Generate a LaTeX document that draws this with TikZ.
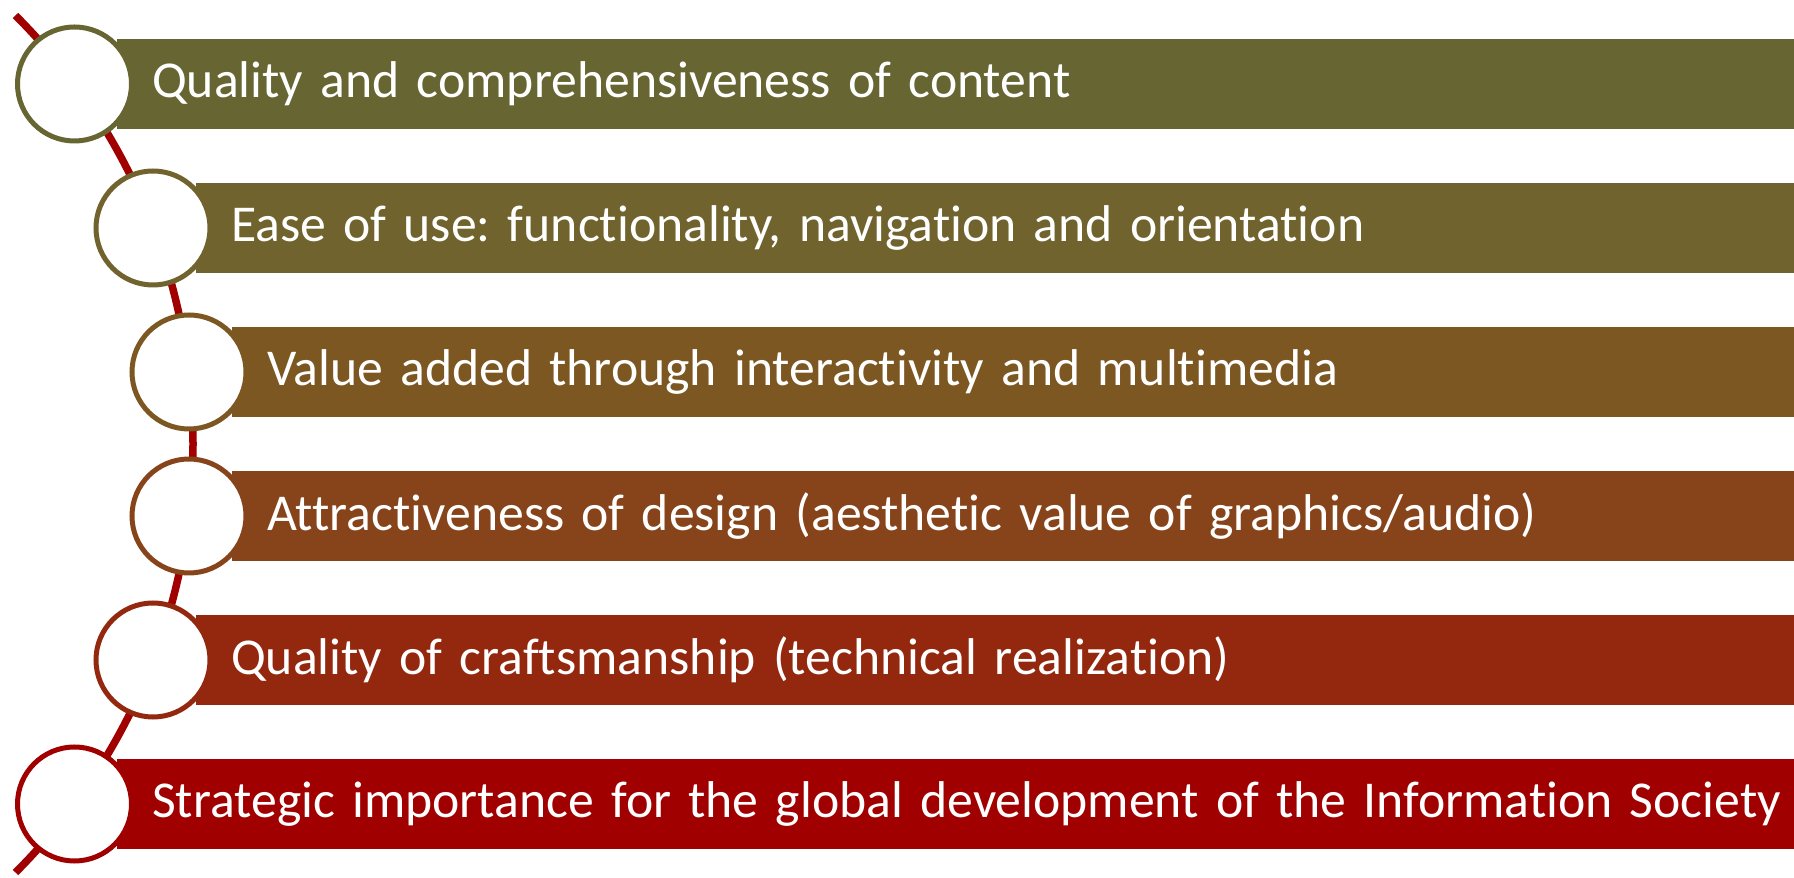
\documentclass[tikz,border=0pt]{standalone}
\usepackage{fontspec}
\setmainfont{Carlito}[Ligatures={NoCommon,NoRare,NoContextual}, RawFeature={-calt}]
\frenchspacing
\definecolor{lvla}{HTML}{676633}
\definecolor{lvlb}{HTML}{71632D}
\definecolor{lvlc}{HTML}{7C5722}
\definecolor{lvld}{HTML}{87441A}
\definecolor{lvle}{HTML}{93280F}
\definecolor{lvlf}{HTML}{A00000}
\begin{document}
\begin{tikzpicture}[x=1pt, y=1pt,
  dot/.style = {draw, circle, fill=white, line width=5pt, minimum size=114pt, inner sep=0pt},
  bar/.style = {anchor=west, minimum height=90pt, inner xsep=35pt, inner ysep=0pt, text width=1630pt, align=left, text=white, font=\fontsize{51.7}{60}\selectfont}]
	\useasboundingbox (0,0) rectangle (1794,878);
	\coordinate (o) at (-413,434);
	\draw[line width=7.5pt, lvlf] (o) ++(45:606pt) coordinate (top) arc[start angle=45, end angle=-45, radius=606pt] coordinate (bot);

	\node[bar, fill=lvla] (qual) at (117,794) {Quality and comprehensiveness of content};
	\node[bar, fill=lvlb] (ease) at (196,650) {Ease of use: functionality, navigation and orientation};
	\node[bar, fill=lvlc] (value) at (232,506) {Value added through interactivity and multimedia};
	\node[bar, fill=lvld] (design) at (232,362) {Attractiveness of design (aesthetic value of graphics/audio)};
	\node[bar, fill=lvle] (craft) at (196,218) {Quality of craftsmanship (technical realization)};
	\node[bar, fill=lvlf] (strat) at (117,74) {Strategic importance for the global development of the Information Society};

	\node[dot, draw=lvla] (c1) at (74.5,794) {};
	\node[dot, draw=lvlb] (c2) at (153,650) {};
	\node[dot, draw=lvlc] (c3) at (189,506) {};
	\node[dot, draw=lvld] (c4) at (189,362) {};
	\node[dot, draw=lvle] (c5) at (153,218) {};
	\node[dot, draw=lvlf] (c6) at (74.5,74) {};
\end{tikzpicture}
\end{document}
